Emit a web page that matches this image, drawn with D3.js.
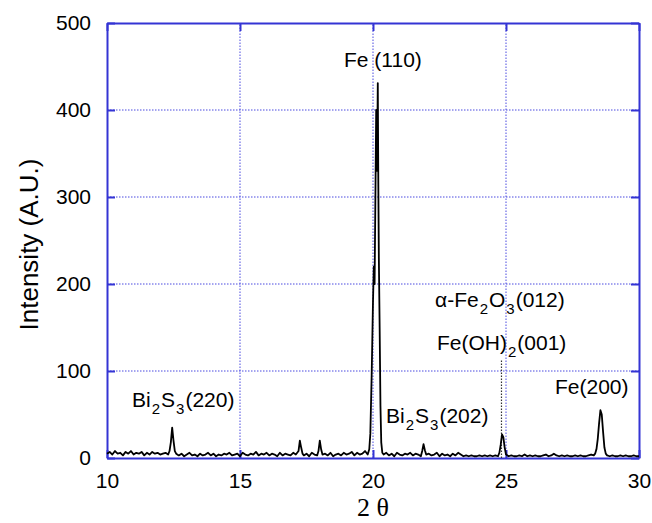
<!DOCTYPE html>
<html>
<head>
<meta charset="utf-8">
<script src="https://cdn.jsdelivr.net/npm/d3@7"></script>
<style>
  body { margin: 0; background: #fff; }
  svg text { font-family: "Liberation Sans", Arial, sans-serif; }
</style>
</head>
<body>
<script>
// XRD pattern, values
const xTicks = [10, 15, 20, 25, 30]
const yTicks = [0, 100, 200, 300, 400, 500]

const pattern = [
  [10.0, 5], [10.1, 7], [10.2, 4], [10.3, 8], [10.4, 5], [10.5, 6], [10.6, 3], [10.7, 7],
  [10.8, 5], [10.9, 8], [11.0, 4], [11.1, 6], [11.2, 5], [11.3, 7], [11.4, 3], [11.5, 6],
  [11.6, 4], [11.7, 7], [11.8, 5], [11.9, 6], [12.0, 4], [12.1, 5], [12.2, 6], [12.3, 4],
  [12.35, 8], [12.4, 18], [12.45, 35], [12.5, 20], [12.55, 8], [12.6, 5],
  [12.7, 3], [12.8, 5], [12.9, 2], [13.0, 4], [13.1, 6], [13.2, 3], [13.3, 4], [13.4, 2],
  [13.5, 5], [13.6, 3], [13.7, 4], [13.8, 6], [13.9, 3], [14.0, 5], [14.1, 2], [14.2, 4],
  [14.3, 3], [14.4, 5], [14.5, 4], [14.6, 6], [14.7, 3], [14.8, 4], [14.9, 5], [15.0, 2],
  [15.1, 6], [15.2, 4], [15.3, 3], [15.4, 5], [15.5, 4], [15.6, 7], [15.7, 3], [15.8, 5],
  [15.9, 4], [16.0, 6], [16.1, 3], [16.2, 5], [16.3, 4], [16.4, 2], [16.5, 6], [16.6, 3],
  [16.7, 5], [16.8, 4], [16.9, 3], [17.0, 6], [17.1, 4],
  [17.2, 8], [17.25, 20], [17.3, 12], [17.35, 5],
  [17.4, 3], [17.5, 5], [17.6, 2], [17.7, 6], [17.8, 4], [17.9, 3],
  [17.95, 8], [18.0, 20], [18.05, 10], [18.1, 4],
  [18.2, 5], [18.3, 3], [18.4, 6], [18.5, 2], [18.6, 4], [18.7, 5], [18.8, 3], [18.9, 6],
  [19.0, 4], [19.1, 5], [19.2, 7], [19.3, 3], [19.4, 6], [19.5, 4], [19.6, 5], [19.7, 8],
  [19.8, 4],
  [19.86, 10], [19.9, 28], [19.95, 95], [20.0, 180], [20.03, 220], [20.06, 200],
  [20.09, 300], [20.12, 400], [20.15, 330], [20.18, 431], [20.2, 315], [20.22, 230],
  [20.25, 150], [20.28, 60], [20.31, 18], [20.35, 6],
  [20.4, 4], [20.5, 6], [20.6, 3], [20.7, 5], [20.8, 2], [20.9, 6], [21.0, 4], [21.1, 3],
  [21.2, 5], [21.3, 4], [21.4, 6], [21.5, 3], [21.6, 5], [21.7, 4], [21.8, 2],
  [21.85, 8], [21.9, 16], [21.95, 9], [22.0, 4],
  [22.1, 5], [22.2, 3], [22.3, 4], [22.4, 6], [22.5, 2], [22.6, 5], [22.7, 3], [22.8, 4],
  [22.9, 2], [23.0, 5], [23.1, 3], [23.2, 6], [23.3, 4], [23.4, 2], [23.5, 3], [23.6, 2],
  [23.7, 3], [23.8, 2], [23.9, 2], [24.0, 3], [24.1, 2], [24.2, 3], [24.3, 2], [24.4, 3],
  [24.5, 2], [24.6, 3], [24.7, 2],
  [24.75, 6], [24.8, 15], [24.85, 27], [24.9, 24], [24.95, 12], [25.0, 4],
  [25.1, 2], [25.2, 3], [25.3, 2], [25.4, 2], [25.5, 3], [25.6, 2], [25.7, 4], [25.8, 2],
  [25.9, 3], [26.0, 2], [26.1, 3], [26.2, 2], [26.3, 2], [26.4, 3], [26.5, 4], [26.6, 2],
  [26.7, 3], [26.8, 5], [26.9, 3], [27.0, 2], [27.1, 3], [27.2, 2], [27.3, 3], [27.4, 2],
  [27.5, 2], [27.6, 3], [27.7, 2], [27.8, 3], [27.9, 2], [28.0, 2], [28.1, 3], [28.2, 4],
  [28.3, 3],
  [28.35, 5], [28.4, 10], [28.45, 22], [28.5, 40], [28.55, 55], [28.6, 50], [28.65, 30],
  [28.7, 12], [28.75, 5], [28.8, 3],
  [28.9, 2], [29.0, 3], [29.1, 2], [29.2, 2], [29.3, 3], [29.4, 2], [29.5, 3], [29.6, 2],
  [29.7, 2], [29.8, 3], [29.9, 2], [30.0, 2]
]

// dotted marker line under the Fe(OH)2 label
const markerLine = [[24.83, 0], [24.83, 113]]

// label text parts: [text, isSubscript]
const labels = [
  { x: 344, y: 67, parts: [['Fe (110)', false]] },
  { x: 132, y: 407, parts: [['Bi', false], ['2', true], ['S', false], ['3', true], ['(220)', false]] },
  { x: 386, y: 423, parts: [['Bi', false], ['2', true], ['S', false], ['3', true], ['(202)', false]] },
  { x: 435, y: 307, parts: [['α-Fe', false], ['2', true], ['O', false], ['3', true], ['(012)', false]] },
  { x: 437, y: 350, parts: [['Fe(OH)', false], ['2', true], ['(001)', false]] },
  { x: 555, y: 394, parts: [['Fe(200)', false]] }
]

const W = 652, H = 523
const M = { left: 107, right: 13, top: 23, bottom: 65 }
const frameColor = '#3434d4'

const x = d3.scaleLinear().domain([10, 30]).range([M.left, W - M.right])
const y = d3.scaleLinear().domain([0, 500]).range([H - M.bottom, M.top])

const svg = d3.select('body').append('svg')
  .attr('width', W)
  .attr('height', H)

// grid
const grid = svg.append('g')
  .attr('stroke', '#4a4ae0')
  .attr('stroke-width', 1)
  .attr('stroke-dasharray', '1.5,1.5')
grid.selectAll('.gx')
  .data(xTicks.slice(1, -1))
  .enter().append('line')
  .attr('x1', d => x(d)).attr('x2', d => x(d))
  .attr('y1', y(0)).attr('y2', y(500))
grid.selectAll('.gy')
  .data(yTicks.slice(1, -1))
  .enter().append('line')
  .attr('x1', x(10)).attr('x2', x(30))
  .attr('y1', d => y(d)).attr('y2', d => y(d))

// axes, ticks pointing inward
const tickLen = 8
svg.append('g')
  .attr('transform', `translate(0,${y(0)})`)
  .call(d3.axisBottom(x).tickValues(xTicks).tickSizeInner(-tickLen).tickSizeOuter(0).tickPadding(15))
svg.append('g')
  .attr('transform', `translate(0,${y(500)})`)
  .call(d3.axisTop(x).tickValues(xTicks).tickSizeInner(-tickLen).tickSizeOuter(0).tickFormat(''))
svg.append('g')
  .attr('transform', `translate(${x(10)},0)`)
  .call(d3.axisLeft(y).tickValues(yTicks).tickSizeInner(-tickLen).tickSizeOuter(0).tickPadding(16))
svg.append('g')
  .attr('transform', `translate(${x(30)},0)`)
  .call(d3.axisRight(y).tickValues(yTicks).tickSizeInner(-tickLen).tickSizeOuter(0).tickFormat(''))

svg.selectAll('.domain').attr('stroke', frameColor).attr('stroke-width', 2)
svg.selectAll('.tick line').attr('stroke', frameColor).attr('stroke-width', 2)
svg.selectAll('.tick text')
  .attr('fill', '#000')
  .style('font-size', '21px')

// data
svg.append('path')
  .datum(markerLine)
  .attr('fill', 'none')
  .attr('stroke', '#333')
  .attr('stroke-width', 1.2)
  .attr('stroke-dasharray', '1.5,1.5')
  .attr('d', d3.line().x(d => x(d[0])).y(d => y(d[1])))

svg.append('path')
  .datum(pattern)
  .attr('fill', 'none')
  .attr('stroke', '#000')
  .attr('stroke-width', 1.8)
  .attr('stroke-linejoin', 'round')
  .attr('d', d3.line().x(d => x(d[0])).y(d => y(d[1])))

// peak labels, subscripts dropped below the baseline
const subDrop = 7
labels.forEach(l => {
  const t = svg.append('text')
    .attr('x', l.x)
    .attr('y', l.y)
    .style('font-size', '21px')
  let prevSub = false
  l.parts.forEach(([s, sub]) => {
    const dy = sub ? (prevSub ? 0 : subDrop) : (prevSub ? -subDrop : 0)
    t.append('tspan')
      .attr('dy', dy)
      .attr('dx', sub ? 1 : (prevSub ? 1 : 0))
      .style('font-size', sub ? '15px' : '21px')
      .text(s)
    prevSub = sub
  })
})

// axis titles
svg.append('text')
  .attr('transform', `translate(38,${(y(0) + y(500)) / 2 + 4}) rotate(-90)`)
  .attr('text-anchor', 'middle')
  .style('font-size', '26px')
  .text('Intensity (A.U.)')

svg.append('text')
  .attr('x', (x(10) + x(30)) / 2)
  .attr('y', 516)
  .attr('text-anchor', 'middle')
  .style('font-family', '"Liberation Serif", "Times New Roman", serif')
  .style('font-size', '26px')
  .text('2 θ')
</script>
</body>
</html>
